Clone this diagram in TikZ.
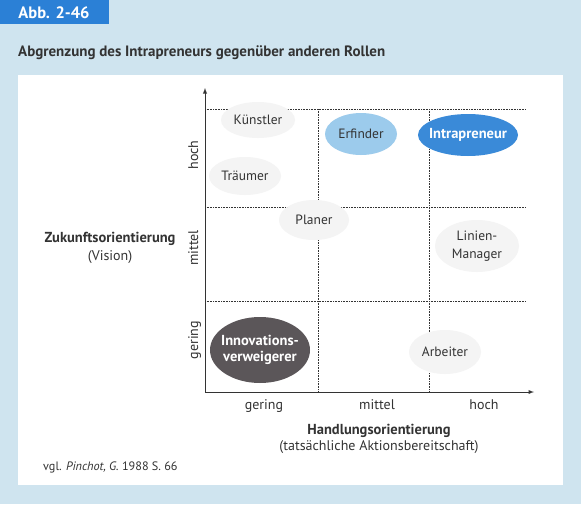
\documentclass[tikz,border=0pt]{standalone}
\usepackage{fontspec}
\setmainfont{PT Sans}
\usetikzlibrary{shapes.geometric, arrows}
\definecolor{bgblue}{HTML}{CFE4EF}
\definecolor{tabblue}{HTML}{2B80D6}
\definecolor{lightblue}{HTML}{9CCBEC}
\definecolor{midblue}{HTML}{3A8AD8}
\definecolor{darkgray}{HTML}{5B5659}
\definecolor{faint}{HTML}{F4F4F4}
\definecolor{ink}{HTML}{333333}
\tikzstyle{role} = [ellipse, inner sep=0pt, text centered, align=center, font=\fontsize{13.5}{18}\selectfont, text=ink]
\tikzstyle{faintrole} = [role, fill=faint]
\tikzstyle{boldrole} = [role, inner xsep=-7pt, text=white, font=\fontsize{14.5}{16}\selectfont\bfseries]
\tikzstyle{grid} = [densely dotted, ink, line width=0.6pt]
\tikzstyle{arrow} = [ink, line width=0.9pt, ->, >=latex]
\tikzstyle{tick} = [font=\fontsize{14}{16}\selectfont, text=ink]

\begin{document}
\begin{tikzpicture}[x=1pt, y=-1pt]

    \useasboundingbox (0,0) rectangle (581,504);
    \fill[bgblue] (0,0) rectangle (581,504);
    \fill[white] (18,75) rectangle (563,485);
    \fill[tabblue] (0,0) rectangle (109,24);
    \node (abb) at (54,13) [text=white, font=\fontsize{16.5}{18}\selectfont\bfseries] {Abb. 2-46};
    \node (title) at (18,53) [anchor=west, inner sep=0pt, text=ink, font=\fontsize{15}{17}\selectfont\bfseries] {Abgrenzung des Intrapreneurs gegenüber anderen Rollen};

    % grid
    \draw[grid] (205,109) -- (526,109);
    \draw[grid] (205,207) -- (526,207);
    \draw[grid] (205,301) -- (526,301);
    \draw[grid] (318,109) -- (318,392);
    \draw[grid] (429,109) -- (429,392);

    % axes
    \coordinate (origin) at (205,392);
    \coordinate (ytop) at (205,88);
    \coordinate (xend) at (534,392);
    \draw[arrow] (origin) -- (ytop);
    \draw[arrow] (origin) -- (xend);

    % roles
    \node (kuenstler) at (258,120) [faintrole, minimum width=74, minimum height=36] {Künstler};
    \node (traeumer) at (245,176) [faintrole, minimum width=72, minimum height=38] {Träumer};
    \node (erfinder) at (361,134) [role, fill=lightblue, minimum width=72, minimum height=42] {Erfinder};
    \node (intra) at (468,135) [boldrole, fill=midblue, minimum width=100, minimum height=42] {Intrapreneur};
    \node (planer) at (314,220) [faintrole, minimum width=70, minimum height=40] {Planer};
    \node (linien) at (477,246) [faintrole, minimum width=84, minimum height=52] {Linien-\\Manager};
    \node (innov) at (260,350) [boldrole, fill=darkgray, minimum width=100, minimum height=66] {Innovations-\\verweigerer};
    \node (arbeiter) at (445,352) [faintrole, minimum width=72, minimum height=44] {Arbeiter};

    % scale labels
    \node (yhoch) at (198,155) [tick, rotate=90, anchor=base] {hoch};
    \node (ymittel) at (198,248) [tick, rotate=90, anchor=base] {mittel};
    \node (ygering) at (198,340) [tick, rotate=90, anchor=base] {gering};
    \node (xgering) at (264,409) [tick, anchor=base] {gering};
    \node (xmittel) at (377,409) [tick, anchor=base] {mittel};
    \node (xhoch) at (484,409) [tick, anchor=base] {hoch};

    % axis titles
    \node (zukunft) at (110,248) [tick, align=center, font=\fontsize{14}{18}\selectfont] {{\fontsize{14.5}{18}\selectfont\bfseries Zukunftsorientierung}\\(Vision)};
    \node (handlung) at (379,439) [tick, align=center] {{\fontsize{14.5}{16}\selectfont\bfseries Handlungsorientierung}\\(tatsächliche Aktionsbereitschaft)};
    \node (quelle) at (43,467) [anchor=west, inner sep=0pt, text=ink, font=\fontsize{12.2}{14}\selectfont] {vgl. \textit{Pinchot, G.} 1988 S. 66};

\end{tikzpicture}
\end{document}
